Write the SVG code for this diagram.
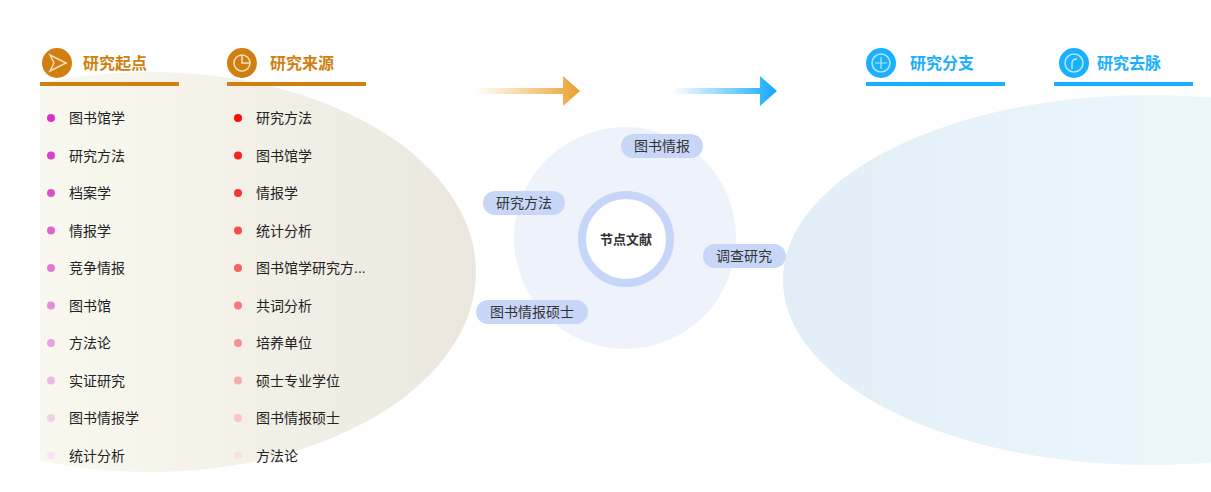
<svg xmlns="http://www.w3.org/2000/svg" width="1211" height="492" viewBox="0 0 1211 492">
<defs>
<linearGradient id="gl" x1="0" x2="1"><stop offset="0" stop-color="#fdfdf8"/><stop offset="0.4" stop-color="#f8f7ee"/><stop offset="1" stop-color="#ebe7de"/></linearGradient>
<linearGradient id="gr" x1="0" x2="1"><stop offset="0" stop-color="#e2eef7"/><stop offset="1" stop-color="#f1fefd"/></linearGradient>
<linearGradient id="ao" x1="0" x2="1"><stop offset="0" stop-color="#f0a83c" stop-opacity="0"/><stop offset="1" stop-color="#eb9f2e"/></linearGradient>
<linearGradient id="ab" x1="0" x2="1"><stop offset="0" stop-color="#1aaeff" stop-opacity="0"/><stop offset="1" stop-color="#12a8ff"/></linearGradient>
<clipPath id="cl"><rect x="40" y="0" width="500" height="492"/></clipPath>
</defs>
<style>
.t{font-family:"Liberation Sans","Noto Sans CJK SC",sans-serif;font-size:14px;fill:#222}
.h{font-family:"Liberation Sans","Noto Sans CJK SC",sans-serif;font-size:16px;font-weight:bold}
.o{fill:#d07f10}.b{fill:#18b0ff}
.p{fill:#c8d7f8}
.pt{font-family:"Liberation Sans","Noto Sans CJK SC",sans-serif;font-size:14px;fill:#333;text-anchor:middle}
</style>
<ellipse cx="150" cy="272" rx="326" ry="200" fill="url(#gl)" clip-path="url(#cl)"/>
<ellipse cx="1150" cy="280" rx="367" ry="185" fill="url(#gr)"/>
<g id="h1"><circle cx="57" cy="63" r="15" class="o"/><path d="M50 55 L66 63 L50 71 L54 63 Z" fill="none" stroke="#f5e0c0" stroke-width="1.5"/><text x="83" y="69" class="h o">研究起点</text><rect x="40" y="82" width="139" height="4" class="o"/></g>
<g id="h2"><circle cx="242" cy="63" r="15" class="o"/><circle cx="242" cy="63" r="8" fill="none" stroke="#f5e0c0" stroke-width="1.5"/><path d="M242 55 V63 H250" fill="none" stroke="#f5e0c0" stroke-width="1.5"/><text x="270" y="69" class="h o">研究来源</text><rect x="227" y="82" width="139" height="4" class="o"/></g>
<g id="h3"><circle cx="881" cy="63" r="15" class="b"/><circle cx="881" cy="63" r="9" fill="none" stroke="#b8e6ff" stroke-width="1.5"/><path d="M881 57 V69 M875 63 H887" stroke="#b8e6ff" stroke-width="1.2"/><text x="910" y="69" class="h b">研究分支</text><rect x="866" y="82" width="139" height="4" class="b"/></g>
<g id="h4"><circle cx="1074" cy="63" r="15" class="b"/><circle cx="1074" cy="63" r="9" fill="none" stroke="#b8e6ff" stroke-width="1.5"/><path d="M1072 69 V63 Q1072 59 1077 59" fill="none" stroke="#b8e6ff" stroke-width="1.5"/><text x="1097" y="69" class="h b">研究去脉</text><rect x="1054" y="82" width="139" height="4" class="b"/></g>
<g id="connectors">
<path d="M475 88 H563 V76 L580 91 L563 106 V94 H475 Z" fill="url(#ao)"/>
<path d="M672 88 H760 V76 L777 91 L760 106 V94 H672 Z" fill="url(#ab)"/>
</g>
<g id="list1">
<circle cx="51" cy="118" r="4" fill="#d633c8"/><text x="69" y="123" class="t">图书馆学</text>
<circle cx="51" cy="155.5" r="4" fill="#d83fca"/><text x="69" y="160.5" class="t">研究方法</text>
<circle cx="51" cy="193" r="4" fill="#db50cd"/><text x="69" y="198" class="t">档案学</text>
<circle cx="51" cy="230.5" r="4" fill="#df64d3"/><text x="69" y="235.5" class="t">情报学</text>
<circle cx="51" cy="268" r="4" fill="#e278d8"/><text x="69" y="273" class="t">竞争情报</text>
<circle cx="51" cy="305.5" r="4" fill="#e68cdc"/><text x="69" y="310.5" class="t">图书馆</text>
<circle cx="51" cy="343" r="4" fill="#eaa2e2"/><text x="69" y="348" class="t">方法论</text>
<circle cx="51" cy="380.5" r="4" fill="#eeb8e8"/><text x="69" y="385.5" class="t">实证研究</text>
<circle cx="51" cy="418" r="4" fill="#f3cfee"/><text x="69" y="423" class="t">图书情报学</text>
<circle cx="51" cy="455.5" r="4" fill="#f8e4f5"/><text x="69" y="460.5" class="t">统计分析</text>
</g>
<g id="list2">
<circle cx="238" cy="118" r="4" fill="#ff0a0a"/><text x="256" y="123" class="t">研究方法</text>
<circle cx="238" cy="155.5" r="4" fill="#ff1f1f"/><text x="256" y="160.5" class="t">图书馆学</text>
<circle cx="238" cy="193" r="4" fill="#fd3333"/><text x="256" y="198" class="t">情报学</text>
<circle cx="238" cy="230.5" r="4" fill="#fb4a4a"/><text x="256" y="235.5" class="t">统计分析</text>
<circle cx="238" cy="268" r="4" fill="#f86262"/><text x="256" y="273" class="t">图书馆学研究方...</text>
<circle cx="238" cy="305.5" r="4" fill="#f67a7a"/><text x="256" y="310.5" class="t">共词分析</text>
<circle cx="238" cy="343" r="4" fill="#f59393"/><text x="256" y="348" class="t">培养单位</text>
<circle cx="238" cy="380.5" r="4" fill="#f6abab"/><text x="256" y="385.5" class="t">硕士专业学位</text>
<circle cx="238" cy="418" r="4" fill="#f8c6c6"/><text x="256" y="423" class="t">图书情报硕士</text>
<circle cx="238" cy="455.5" r="4" fill="#fbe0e0"/><text x="256" y="460.5" class="t">方法论</text>
</g>
<g id="center">
<circle cx="625" cy="238" r="111" fill="#eef2fb"/>
<circle cx="626" cy="239" r="44" fill="#fff" stroke="#c6d6f8" stroke-width="8"/>
<text x="626" y="244" class="pt" style="font-weight:bold;font-size:13px">节点文献</text>
</g>
<g id="n1"><rect x="621" y="134" width="82" height="24" rx="12" class="p"/><text x="662" y="151" class="pt">图书情报</text></g>
<g id="n2"><rect x="483" y="191" width="82" height="24" rx="12" class="p"/><text x="524" y="208" class="pt">研究方法</text></g>
<g id="n3"><rect x="703" y="244" width="83" height="24" rx="12" class="p"/><text x="744" y="261" class="pt">调查研究</text></g>
<g id="n4"><rect x="476" y="300" width="112" height="24" rx="12" class="p"/><text x="532" y="317" class="pt">图书情报硕士</text></g>
</svg>
